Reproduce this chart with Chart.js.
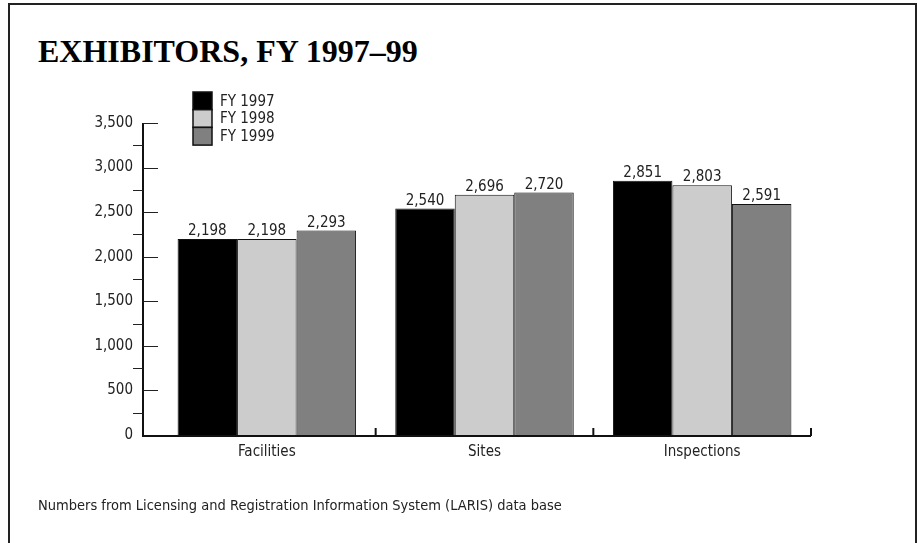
<!DOCTYPE html>
<html>
<head>
<meta charset="utf-8">
<script src="https://cdn.jsdelivr.net/npm/chart.js@4.4.1/dist/chart.umd.min.js"></script>
<style>
  html, body { margin: 0; padding: 0; background: #fff; }
  #wrap { position: relative; width: 917px; height: 543px; overflow: hidden; }
  #frame { position: absolute; left: 8px; top: 3px; width: 905px; height: 600px;
           border: 2px solid #222; border-bottom: none; }
  #title { position: absolute; left: 38px; top: 35px; font: bold 32px "Liberation Serif", "Times New Roman", serif;
           line-height: 1; color: #000; white-space: nowrap; }
  #note { position: absolute; left: 38px; top: 498px; font: 14.5px "DejaVu Sans Condensed", "Liberation Sans Narrow", sans-serif;
          line-height: 1; color: #222; white-space: nowrap; }
  canvas { position: absolute; left: 0; top: 0; }
</style>
</head>
<body>
<div id="wrap">
  <div id="frame"></div>
  <div id="title">EXHIBITORS, FY 1997–99</div>
  <canvas id="chart" width="917" height="543"></canvas>
  <div id="note">Numbers from Licensing and Registration Information System (LARIS) data base</div>
</div>
<script>
// --- DATA ---
const categories = ['Facilities', 'Sites', 'Inspections'];
const seriesNames = ['FY 1997', 'FY 1998', 'FY 1999'];
const fy1997 = [2198, 2540, 2851];
const fy1998 = [2198, 2696, 2803];
const fy1999 = [2293, 2720, 2591];
const yTicks = [0, 500, 1000, 1500, 2000, 2500, 3000, 3500];

const barColors = ['#000000', '#cccccc', '#808080'];
const FONT = '"DejaVu Sans Condensed", "Liberation Sans Narrow", sans-serif';
const fmt = v => v.toLocaleString('en-US');

// axis lines, tick marks, legend and value labels
const decorPlugin = {
    id: 'decor',
    afterDraw(chart) {
        const ctx = chart.ctx;
        const x = chart.scales.x;
        const y = chart.scales.y;
        const axisX = chart.chartArea.left - 15;
        const y0 = y.getPixelForValue(0);
        const yTop = y.getPixelForValue(yTicks[yTicks.length - 1]);

        ctx.save();
        ctx.strokeStyle = '#111';
        ctx.lineWidth = 2;
        ctx.beginPath();
        ctx.moveTo(axisX, yTop);
        ctx.lineTo(axisX, y0 + 1);
        ctx.lineTo(chart.chartArea.right, y0 + 1);
        ctx.stroke();

        // major ticks point right, half-step ticks point left
        ctx.lineWidth = 1;
        ctx.strokeStyle = '#222';
        yTicks.forEach(t => {
            if (t === 0) return;
            const py = Math.round(y.getPixelForValue(t)) + 0.5;
            ctx.beginPath();
            ctx.moveTo(axisX, py);
            ctx.lineTo(axisX + 15, py);
            ctx.stroke();
            const half = Math.round(y.getPixelForValue(t - 250)) + 0.5;
            ctx.beginPath();
            ctx.moveTo(axisX - 10, half);
            ctx.lineTo(axisX, half);
            ctx.stroke();
        });

        // category boundary ticks on x axis
        ctx.lineWidth = 2;
        ctx.strokeStyle = '#111';
        const step = x.getPixelForValue(1) - x.getPixelForValue(0);
        categories.forEach((c, i) => {
            const px = x.getPixelForValue(i) + step / 2;
            ctx.beginPath();
            ctx.moveTo(px, y0 + 1);
            ctx.lineTo(px, y0 - 7);
            ctx.stroke();
        });

        // value labels
        ctx.fillStyle = '#222';
        ctx.font = '15px ' + FONT;
        ctx.textAlign = 'center';
        ctx.textBaseline = 'alphabetic';
        chart.data.datasets.forEach((ds, di) => {
            chart.getDatasetMeta(di).data.forEach((bar, i) => {
                ctx.fillText(fmt(ds.data[i]), bar.x, bar.y - 4);
            });
        });

        // legend: stacked boxes
        const lx = 193, ly = 92, bw = 19, bh = 17.7;
        ctx.textAlign = 'left';
        ctx.textBaseline = 'middle';
        chart.data.datasets.forEach((ds, di) => {
            const top = ly + di * bh;
            ctx.fillStyle = ds.backgroundColor;
            ctx.fillRect(lx, top, bw, bh);
            ctx.lineWidth = 1.5;
            ctx.strokeStyle = '#111';
            ctx.strokeRect(lx, top, bw, bh);
            ctx.fillStyle = '#222';
            ctx.fillText(ds.label, lx + 27, top + bh / 2 + 1);
        });
        ctx.restore();
    }
};

new Chart(document.getElementById('chart'), {
    type: 'bar',
    data: {
        labels: categories,
        datasets: [fy1997, fy1998, fy1999].map((d, i) => ({
            label: seriesNames[i],
            data: d,
            backgroundColor: barColors[i],
            borderColor: '#111',
            borderWidth: 1,
            borderSkipped: 'bottom',
            barPercentage: 1,
            categoryPercentage: 0.82
        }))
    },
    options: {
        responsive: false,
        animation: false,
        devicePixelRatio: 1,
        layout: { padding: { top: 123, right: 106, left: 0, bottom: 0 } },
        plugins: { legend: { display: false }, tooltip: { enabled: false } },
        scales: {
            x: {
                grid: { display: false, drawTicks: false },
                border: { display: false },
                ticks: { color: '#222', font: { family: FONT, size: 15 }, padding: 8 },
                afterFit: s => { s.height = 108; }
            },
            y: {
                min: 0,
                max: 3500,
                afterBuildTicks: s => { s.ticks = yTicks.map(v => ({ value: v })); },
                grid: { display: false, drawTicks: false },
                border: { display: false },
                ticks: { color: '#222', font: { family: FONT, size: 15 }, padding: 25, callback: v => fmt(v) },
                afterFit: s => { s.width = 158; }
            }
        }
    },
    plugins: [decorPlugin]
});
</script>
</body>
</html>
